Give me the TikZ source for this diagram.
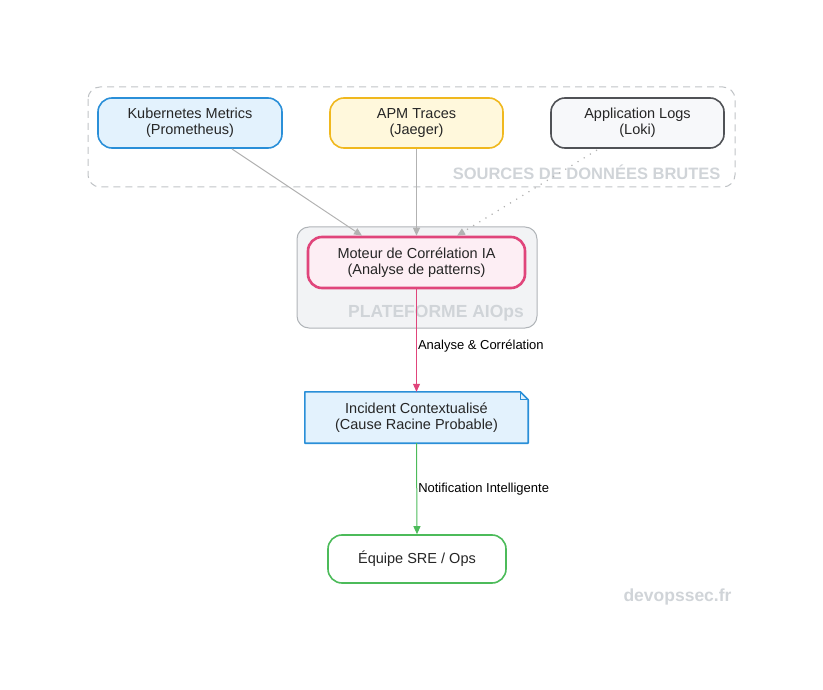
\documentclass[tikz,border=0pt]{standalone}
\usepackage{fontspec}
\setmainfont{Liberation Sans}
\usepackage{xcolor}
\usepackage{tikz}
\usetikzlibrary{positioning,arrows.meta,calc}
\definecolor{kubeblue}{RGB}{42,143,216}
\definecolor{kubefill}{RGB}{227,242,253}
\definecolor{apmyellow}{RGB}{240,184,30}
\definecolor{apmfill}{RGB}{255,248,220}
\definecolor{logsgray}{RGB}{80,82,86}
\definecolor{logsfill}{RGB}{247,248,250}
\definecolor{iapink}{RGB}{224,69,123}
\definecolor{iafill}{RGB}{253,238,244}
\definecolor{sregreen}{RGB}{76,187,90}
\definecolor{groupgray}{RGB}{176,180,184}
\definecolor{groupfill}{RGB}{242,243,245}
\definecolor{titlegray}{RGB}{208,212,216}
\tikzset{
  src/.style={rounded corners=14pt, line width=1.6pt, minimum width=184pt,
              minimum height=50pt, align=center, font=\fontsize{14.5}{16}\selectfont,
              text=black!85},
  kube/.style={src, draw=kubeblue, fill=kubefill},
  apm/.style={src, draw=apmyellow, fill=apmfill, minimum width=173pt},
  logs/.style={src, draw=logsgray, fill=logsfill, minimum width=173pt},
  engine/.style={src, draw=iapink, fill=iafill, line width=2.6pt, minimum width=217pt,
                 minimum height=51pt},
  team/.style={src, draw=sregreen, fill=white, minimum width=178pt, minimum height=48pt},
  notetext/.style={align=center, font=\fontsize{14.5}{16}\selectfont, text=black!85,
                   minimum width=223pt, minimum height=51pt, inner sep=0pt},
  grouptitle/.style={font=\bfseries\fontsize{16.5}{18}\selectfont, text=titlegray},
  flow/.style={-{Triangle[length=8pt,width=7pt]}, line width=1pt},
  feed/.style={flow, black!30},
  edgelbl/.style={font=\fontsize{13}{14}\selectfont, anchor=west, inner sep=1pt, text=black}
}
\begin{document}
\begin{tikzpicture}[x=1pt,y=-1pt]
\useasboundingbox (0,0) rectangle (823,690);
% groups
\draw[groupgray!80, line width=1pt, dash pattern=on 7pt off 5pt, rounded corners=12pt]
  (88,87) rectangle (735,187);
\node[grouptitle, anchor=east] (srctitle) at (724,172) {SOURCES DE DONNÉES BRUTES};
\draw[groupgray, fill=groupfill, line width=1pt, rounded corners=12pt]
  (297,227) rectangle (537,328);
\node[grouptitle, font=\bfseries\fontsize{17.5}{18}\selectfont] (plattitle) at (436,313) {PLATEFORME AIOps};
% sources
\node[kube] (kube) at (190,123) {Kubernetes Metrics\\(Prometheus)};
\node[apm] (apm) at (416.5,123) {APM Traces\\(Jaeger)};
\node[logs] (logs) at (637.5,123) {Application Logs\\(Loki)};
% engine
\node[engine] (engine) at (416.5,262.5) {Moteur de Corrélation IA\\(Analyse de patterns)};
% incident (note)
\node[notetext] (incident) at (416.5,417.5) {};
\fill[kubefill] (incident.north west) -- ($(incident.north east)+(-8,0)$)
  -- ($(incident.north east)+(0,8)$) -- (incident.south east) -- (incident.south west) -- cycle;
\draw[kubeblue, line width=1.6pt, line join=round] (incident.north west) -- ($(incident.north east)+(-8,0)$)
  -- ($(incident.north east)+(0,8)$) -- (incident.south east) -- (incident.south west) -- cycle;
\draw[kubeblue, line width=1pt] ($(incident.north east)+(-8,0)$) -- ($(incident.north east)+(-8,8)$)
  -- ($(incident.north east)+(0,8)$);
\node[notetext] (incidenttxt) at (incident) {Incident Contextualisé\\(Cause Racine Probable)};
% team
\node[team] (team) at (417,559) {Équipe SRE / Ops};
% connectors
\draw[feed] (232,149) -- (engine.north -| 362,0);
\draw[feed] (apm.south) -- (engine.north);
\draw[feed, dash pattern=on 1.2pt off 6pt, line width=1.2pt] (597,150) -- (engine.north -| 457,0);
\draw[flow, iapink] (engine.south) -- node[edgelbl, pos=0.55] (lblcorr) {Analyse \& Corrélation} (incident.north);
\draw[flow, sregreen] (incident.south) -- node[edgelbl, pos=0.5] (lblnotif) {Notification Intelligente} (team.north);
% watermark
\node[font=\bfseries\fontsize{17.5}{18}\selectfont, text=titlegray, anchor=east] (mark) at (735,597) {devopssec.fr};
\end{tikzpicture}
\end{document}
